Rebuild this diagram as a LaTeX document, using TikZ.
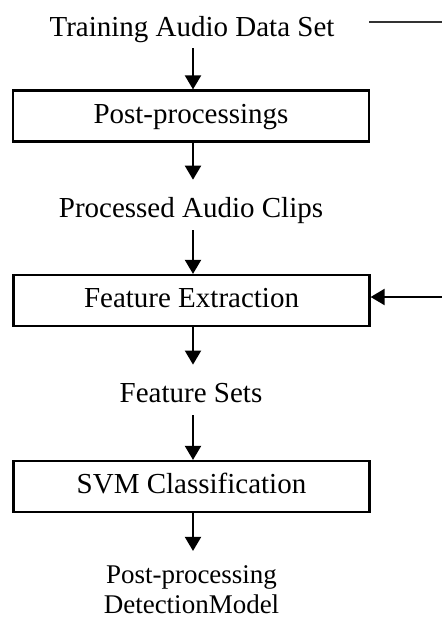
\documentclass[tikz,border=0pt]{standalone}
\usepackage{fontspec}
\setmainfont{Liberation Serif}
\usetikzlibrary{arrows.meta}
\begin{document}
\begin{tikzpicture}[x=1pt,y=-1pt,
  every node/.style={inner sep=0pt, font=\fontsize{29}{34}\selectfont},
  label/.style={anchor=base},
  stagebox/.style={draw, line width=2.2pt, minimum width=356pt, minimum height=51pt,
    text height=19pt, text depth=5pt},
  flow/.style={line width=2pt, -{Triangle[width=16pt,length=14pt]}}]
\useasboundingbox (0,0) rectangle (442,619);
% captions and stages
\node[label] (src) at (192,36) {Training Audio Data Set};
\node[stagebox] (pp) at (191,116) {Post-processings};
\node[label] (clips) at (191,217) {Processed Audio Clips};
\node[stagebox] (fe) at (191.5,300.5) {Feature Extraction};
\node[label] (feat) at (191,402) {Feature Sets};
\node[stagebox] (svm) at (191.5,486.5) {SVM Classification};
\node[align=center, font=\fontsize{27}{30}\selectfont, anchor=base] (out) at (191.5,613)
  {Post-processing\\DetectionModel};
% side lines
\coordinate (topr) at (442,22);
\coordinate (topl) at (369,22);
\coordinate (sider) at (442,297);
\draw[line width=1.3pt, black!80] (topl) -- (topr);
\draw[flow] (sider) -- (fe.east |- sider);
% vertical flow arrows
\draw[flow, shorten <=6pt] ([xshift=1pt]src.south) -- ([xshift=2pt]pp.north);
\draw[flow, shorten >=17pt] ([xshift=2pt]pp.south) -- ([xshift=2pt]clips.north);
\draw[flow, shorten <=7pt] ([xshift=2pt]clips.south) -- ([xshift=1.5pt]fe.north);
\draw[flow, shorten >=18pt] ([xshift=1.5pt]fe.south) -- ([xshift=2pt]feat.north);
\draw[flow, shorten <=13pt] ([xshift=2pt]feat.south) -- ([xshift=1.5pt]svm.north);
\draw[flow, shorten >=14pt] ([xshift=1.5pt]svm.south) -- ([xshift=1.5pt]out.north);
\end{tikzpicture}
\end{document}
